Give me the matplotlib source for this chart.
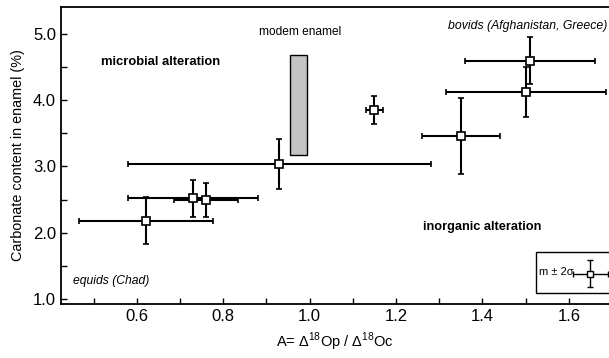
import numpy as np
import matplotlib
matplotlib.use("Agg")
import matplotlib.pyplot as plt
from matplotlib.patches import Rectangle

plt.rcParams["font.family"] = ["Liberation Sans", "DejaVu Sans"]
plt.rcParams["mathtext.fontset"] = "custom"
plt.rcParams["mathtext.rm"] = "Liberation Sans"

# A values (x) with 2 sigma, carbonate content (y) with 2 sigma
a_val = [0.62, 0.73, 0.76, 0.93, 1.15, 1.35, 1.51, 1.50]
a_err = [0.155, 0.15, 0.075, 0.35, 0.02, 0.09, 0.15, 0.185]
carb = [2.18, 2.52, 2.49, 3.04, 3.85, 3.46, 4.60, 4.13]
carb_err = [0.36, 0.28, 0.26, 0.38, 0.21, 0.58, 0.36, 0.38]

# modern enamel range
modern_a = [0.954, 0.993]
modern_carb = [3.17, 4.68]

xticks = [0.6, 0.8, 1.0, 1.2, 1.4, 1.6]
yticks = [1.0, 2.0, 3.0, 4.0, 5.0]

fig = plt.figure(figsize=(6.09, 3.58), dpi=100)
ax = fig.add_axes([0.100, 0.151, 0.900, 0.829])

ax.add_patch(Rectangle((modern_a[0], modern_carb[0]), modern_a[1] - modern_a[0],
                       modern_carb[1] - modern_carb[0], facecolor="#c4c4c4",
                       edgecolor="black", lw=1.0, zorder=2))

ax.errorbar(a_val, carb, xerr=a_err, yerr=carb_err, fmt="s", color="black",
            mfc="white", mec="black", ms=6, mew=1.2, elinewidth=1.5,
            capsize=2.5, capthick=1.2, zorder=3)

# legend key
ax.add_patch(Rectangle((1.523, 1.08), 0.3, 0.63, facecolor="white",
                       edgecolor="black", lw=1.0, zorder=4, clip_on=True))
ax.errorbar([1.65], [1.38], xerr=[0.04], yerr=[0.2], fmt="s", color="black",
            mfc="white", mec="black", ms=5, mew=1.0, elinewidth=1.0,
            capsize=2, zorder=5)
ax.text(1.532, 1.40, "m ± 2σ", fontsize=8, va="center", ha="left", zorder=5)

ax.text(0.977, 5.04, "modem enamel", fontsize=8.6, ha="center", va="center")
ax.text(0.655, 4.58, "microbial alteration", fontsize=9.4, fontweight="bold",
        ha="center", va="center")
ax.text(1.505, 5.12, "bovids (Afghanistan, Greece)", fontsize=8.8,
        style="italic", ha="center", va="center")
ax.text(1.40, 2.09, "inorganic alteration", fontsize=9.2, fontweight="bold",
        ha="center", va="center")
ax.text(0.541, 1.27, "equids (Chad)", fontsize=8.7, style="italic",
        ha="center", va="center")

ax.set_xlim(0.424, 1.693)
ax.set_ylim(0.92, 5.41)
ax.set_xticks(xticks)
ax.set_xticklabels([f"{t:.1f}" for t in xticks])
ax.set_xticks(np.arange(0.5, 1.65, 0.1), minor=True)
ax.set_yticks(yticks)
ax.set_yticklabels([f"{t:.1f}" for t in yticks])
ax.set_yticks(np.arange(1.5, 5.0, 1.0), minor=True)
ax.tick_params(which="both", direction="in", labelsize=12, width=1.0)
ax.tick_params(which="major", length=4)
ax.tick_params(which="minor", length=4)
ax.spines["right"].set_visible(False)
for s in ["left", "bottom", "top"]:
    ax.spines[s].set_linewidth(1.3)

ax.set_xlabel("A= Δ$^{18}$Op / Δ$^{18}$Oc", fontsize=10.5, labelpad=5)
ax.set_ylabel("Carbonate content in enamel (%)", fontsize=10.4, labelpad=6)

fig.savefig("out.png", dpi=100)
